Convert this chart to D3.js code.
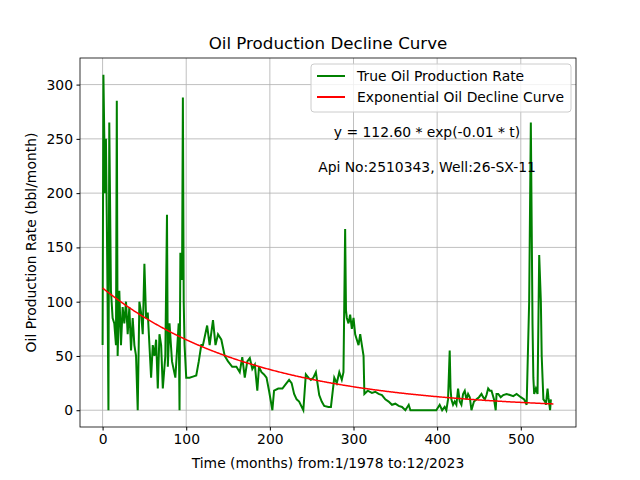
<!DOCTYPE html>
<html><head><meta charset="utf-8">
<script src="https://cdn.jsdelivr.net/npm/d3@7"></script>
<style>body{margin:0;background:#fff}text{font-family:"DejaVu Sans",sans-serif}</style>
</head><body><svg id="c" width="640" height="480"></svg>
<script>
const months=[0,1,2,3,4,5,6,7,8,10,12,14,16,17,18,20,22,24,26,28,30,32,34,36,38,40,42,44,46,48,50,52,54,56,58,60,62,64,66,68,70,72,75,77,78,80,83,87,91,92,93,95,96,97,98,100,104,108,112,115,118,120,125,128,132,135,138,142,146,150,155,160,164,167,170,173,176,179,182,185,187,190,193,196,199,203,205,210,215,219,223,226,229,232,235,240,243,246,249,252,255,259,262,265,270,273,277,280,283,286,288,290,291,292,294,296,298,300,302,304,306,308,310,312,313,317,322,326,330,334,338,342,346,350,354,358,362,366,368,370,375,380,385,390,395,399,403,406,409,411,413,415,416,417,419,421,423,425,427,429,431,433,435,437,439,441,444,447,450,453,455,457,459,461,463,465,468,470,471,473,476,479,483,487,491,495,500,504,507,510,512,514,515,516,518,520,522,524,525,526,527,529,530,532,533,535,536,537,538,539];
const oilRate=[60,309,255,200,250,180,100,0,265,110,85,80,60,285,50,110,60,95,80,100,70,95,55,85,60,50,0,100,90,70,135,85,90,60,30,60,50,65,20,70,60,20,50,180,40,80,45,30,80,0,145,120,288,100,60,30,30,31,32,45,60,60,78,60,83,60,70,65,50,45,40,40,35,49,30,45,48,38,42,18,40,35,33,30,18,0,18,20,20,24,28,25,15,10,8,0,33,30,28,30,35,14,8,4,3,3,30,25,35,28,35,167,92,85,80,88,75,85,70,65,60,70,60,50,15,18,16,17,15,14,10,8,5,6,4,3,0,5,0,0,0,0,0,0,0,0,5,0,3,0,10,55,20,10,5,8,5,20,8,5,15,18,10,15,12,0,8,10,12,15,12,10,14,20,18,18,10,0,15,15,12,14,15,14,13,15,12,10,5,100,265,80,30,15,20,15,143,100,50,30,10,8,5,20,12,0,10];
const fitA=112.60, fitK=0.0055;
const xTicks=[0,100,200,300,400,500], yTicks=[0,50,100,150,200,250,300];

const svg=d3.select("#c");
const L=80,R=576,T=58,B=427;
const x=d3.scaleLinear().domain([-27,566]).range([L,R]);
const y=d3.scaleLinear().domain([-15.45,324.5]).range([B,T]);
const g=svg.append("g");
g.selectAll(".gx").data(xTicks).join("line").attr("x1",d=>x(d)).attr("x2",d=>x(d)).attr("y1",T).attr("y2",B).attr("stroke","#b0b0b0").attr("stroke-width",0.8);
g.selectAll(".gy").data(yTicks).join("line").attr("y1",d=>y(d)).attr("y2",d=>y(d)).attr("x1",L).attr("x2",R).attr("stroke","#b0b0b0").attr("stroke-width",0.8);
const data=months.map((m,i)=>[m,oilRate[i]]);
svg.append("path").datum(data).attr("fill","none").attr("stroke","green").attr("stroke-width",2)
 .attr("d",d3.line().x(d=>x(d[0])).y(d=>y(d[1])));
const fit=d3.range(0,540,1).map(t=>[t,fitA*Math.exp(-fitK*t)]);
svg.append("path").datum(fit).attr("fill","none").attr("stroke","red").attr("stroke-width",1.5)
 .attr("d",d3.line().x(d=>x(d[0])).y(d=>y(d[1])));
const xa=svg.append("g").attr("transform",`translate(0,${B})`).call(d3.axisBottom(x).tickValues(xTicks).tickSize(3.5).tickPadding(3.5));
const ya=svg.append("g").attr("transform",`translate(${L},0)`).call(d3.axisLeft(y).tickValues(yTicks).tickSize(3.5).tickPadding(3.5));
[xa,ya].forEach(a=>{a.selectAll("text").attr("font-size",13.9).attr("font-family","DejaVu Sans").attr("fill","#000");a.select(".domain").remove();a.selectAll("line").attr("stroke","#000");});
svg.append("rect").attr("x",L).attr("y",T).attr("width",R-L).attr("height",B-T).attr("fill","none").attr("stroke","#000").attr("stroke-width",0.8);
svg.append("text").attr("x",(L+R)/2).attr("y",49).attr("text-anchor","middle").attr("font-size",16.7).text("Oil Production Decline Curve");
svg.append("text").attr("x",(L+R)/2).attr("y",468).attr("text-anchor","middle").attr("font-size",13.9).text("Time (months) from:1/1978 to:12/2023");
svg.append("text").attr("transform",`translate(36,${(T+B)/2}) rotate(-90)`).attr("text-anchor","middle").attr("font-size",13.9).text("Oil Production Rate (bbl/month)");
svg.append("text").attr("x",427).attr("y",137).attr("text-anchor","middle").attr("font-size",13.9).text("y = 112.60 * exp(-0.01 * t)");
svg.append("text").attr("x",427).attr("y",172).attr("text-anchor","middle").attr("font-size",13.9).text("Api No:2510343, Well:26-SX-11");
const lg=svg.append("g");
lg.append("rect").attr("x",311).attr("y",64).attr("width",260).attr("height",48).attr("rx",3).attr("fill","#fff").attr("fill-opacity",0.8).attr("stroke","#ccc");
[["True Oil Production Rate","green",76],["Exponential Oil Decline Curve","red",97]].forEach(([t,c,yy])=>{
 lg.append("line").attr("x1",317).attr("x2",345).attr("y1",yy).attr("y2",yy).attr("stroke",c).attr("stroke-width",2);
 lg.append("text").attr("x",357).attr("y",yy+5).attr("font-size",13.9).text(t);
});
</script></body></html>
